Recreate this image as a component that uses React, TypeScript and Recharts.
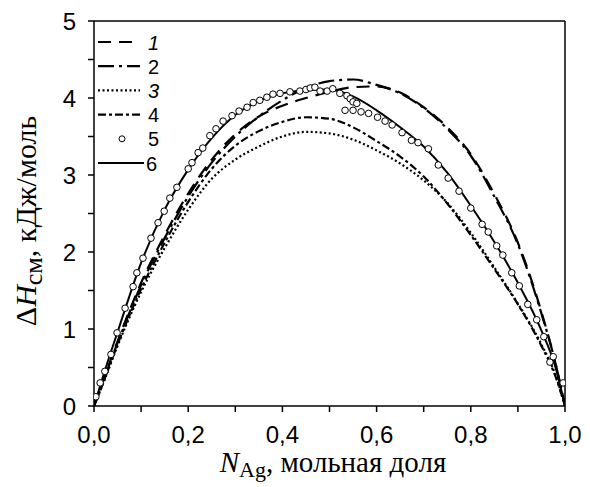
import React from 'react';
import { ComposedChart, Line, Scatter, XAxis, YAxis, ReferenceLine, Legend } from 'recharts';

const W = 590;
const H = 487;

// common composition grid for calculated curves 1-4 and 6
const gridX = [0, 0.02, 0.05, 0.1, 0.15, 0.2, 0.25, 0.3, 0.35, 0.4, 0.45, 0.5, 0.55, 0.6, 0.65, 0.7, 0.75, 0.8, 0.85, 0.9, 0.95, 0.98, 1];
const curve1 = [0, 0.34, 0.84, 1.6, 2.22, 2.76, 3.2, 3.53, 3.76, 3.9, 4.0, 4.08, 4.14, 4.15, 4.07, 3.88, 3.62, 3.27, 2.75, 2.12, 1.22, 0.55, 0];
const curve2 = [0, 0.33, 0.82, 1.57, 2.18, 2.72, 3.16, 3.5, 3.76, 3.97, 4.13, 4.22, 4.24, 4.17, 4.06, 3.87, 3.6, 3.25, 2.72, 2.1, 1.2, 0.55, 0];
const curve3 = [0, 0.3, 0.78, 1.48, 2.05, 2.55, 2.95, 3.2, 3.37, 3.5, 3.56, 3.54, 3.46, 3.32, 3.15, 2.93, 2.64, 2.25, 1.8, 1.33, 0.8, 0.4, 0];
const curve4 = [0, 0.31, 0.8, 1.52, 2.12, 2.65, 3.08, 3.38, 3.57, 3.69, 3.75, 3.73, 3.62, 3.44, 3.24, 2.98, 2.63, 2.22, 1.78, 1.32, 0.78, 0.38, 0];
const curve6 = [0, 0.4, 0.96, 1.86, 2.55, 3.07, 3.48, 3.78, 3.96, 4.06, 4.1, 4.11, 4.02, 3.84, 3.62, 3.37, 3.03, 2.6, 2.13, 1.6, 0.98, 0.5, 0];

// experimental points (series 5)
const pointsX = [0.004, 0.013, 0.023, 0.036, 0.049, 0.066, 0.083, 0.091, 0.104, 0.121, 0.136, 0.149, 0.161, 0.176, 0.2, 0.208, 0.221, 0.231, 0.246, 0.259, 0.274, 0.293, 0.308, 0.325, 0.338, 0.352, 0.367, 0.38, 0.395, 0.416, 0.437, 0.45, 0.459, 0.469, 0.48, 0.495, 0.507, 0.522, 0.537, 0.544, 0.55, 0.558, 0.533, 0.55, 0.567, 0.583, 0.602, 0.618, 0.633, 0.654, 0.674, 0.688, 0.71, 0.731, 0.752, 0.775, 0.8, 0.824, 0.837, 0.855, 0.868, 0.887, 0.903, 0.921, 0.94, 0.955, 0.968, 0.975, 0.996];
const pointsY = [0.12, 0.3, 0.45, 0.67, 0.95, 1.27, 1.55, 1.73, 1.92, 2.18, 2.38, 2.53, 2.7, 2.84, 3.08, 3.16, 3.29, 3.35, 3.51, 3.6, 3.7, 3.77, 3.83, 3.88, 3.94, 3.97, 4.01, 4.05, 4.06, 4.08, 4.09, 4.11, 4.13, 4.14, 4.09, 4.09, 4.12, 4.06, 4.03, 3.99, 3.95, 3.93, 3.84, 3.84, 3.82, 3.8, 3.75, 3.7, 3.65, 3.55, 3.45, 3.42, 3.34, 3.13, 2.96, 2.79, 2.57, 2.36, 2.26, 2.08, 1.96, 1.73, 1.56, 1.32, 1.12, 0.9, 0.57, 0.64, 0.3];

const xTickValues = [0, 0.1, 0.2, 0.3, 0.4, 0.5, 0.6, 0.7, 0.8, 0.9, 1.0];
const xMajor = [0, 0.2, 0.4, 0.6, 0.8, 1.0];
const yTickValues = [0, 0.5, 1, 1.5, 2, 2.5, 3, 3.5, 4, 4.5, 5];
const yMajor = [0, 1, 2, 3, 4, 5];
const legendLabels = ['1', '2', '3', '4', '5', '6'];

const toPoints = (xs: number[], ys: number[]) => xs.map((x, i) => ({ x, y: ys[i] }));

const lineSeries = [
  { name: legendLabels[0], data: toPoints(gridX, curve1), dash: '13 8', italic: true },
  { name: legendLabels[1], data: toPoints(gridX, curve2), dash: '16 5 3 5', italic: false },
  { name: legendLabels[2], data: toPoints(gridX, curve3), dash: '2 2.5', italic: true },
  { name: legendLabels[3], data: toPoints(gridX, curve4), dash: '8 3 3 3', italic: false },
];
const pointData = toPoints(pointsX, pointsY);
const solidData = toPoints(gridX, curve6);

const SANS = '"Liberation Sans", Arial, sans-serif';
const SERIF = '"Liberation Serif", "Times New Roman", serif';

const isIn = (v: number, arr: number[]) => arr.some((a) => Math.abs(a - v) < 1e-6);
const fmt = (v: number) => v.toFixed(1).replace('.', ',');

const XTick = (props: any) => {
  const { x, y, payload } = props;
  if (!isIn(payload.value, xMajor)) return <g />;
  return (
    <text x={x} y={y + 29} textAnchor="middle" fontSize={24} fontFamily={SANS} fill="#000">
      {fmt(payload.value)}
    </text>
  );
};

const YTick = (props: any) => {
  const { x, y, payload } = props;
  if (!isIn(payload.value, yMajor)) return <g />;
  return (
    <text x={x - 10} y={y + 8.5} textAnchor="end" fontSize={24} fontFamily={SANS} fill="#000">
      {String(payload.value)}
    </text>
  );
};

const XTitle = () => (
  <text x={333} y={472} textAnchor="middle" fontSize={29} fontFamily={SERIF} fill="#000">
    <tspan fontStyle="italic">N</tspan>
    <tspan dy={5} fontSize={22}>Ag</tspan>
    <tspan dy={-5}>, мольная доля</tspan>
  </text>
);

const YTitle = () => (
  <text x={36} y={221} transform="rotate(-90, 36, 221)" textAnchor="middle" fontSize={30} fontFamily={SERIF} fill="#000">
    <tspan>Δ</tspan>
    <tspan fontStyle="italic">H</tspan>
    <tspan dy={6} fontSize={26}>см</tspan>
    <tspan dy={-6}>, кДж/моль</tspan>
  </text>
);

const renderLegend = () => (
  <svg width={90} height={150} style={{ display: 'block' }}>
    {legendLabels.map((lab, i) => {
      const cy = 12 + i * 24.2;
      const ls = lineSeries[i];
      return (
        <g key={lab}>
          {i < 4 && (
            <line x1={6} x2={48} y1={cy} y2={cy} stroke="#000" strokeWidth={2.2} strokeDasharray={ls.dash} />
          )}
          {i === 4 && <circle cx={30} cy={cy} r={3} fill="#fff" stroke="#000" strokeWidth={1} />}
          {i === 5 && <line x1={6} x2={52} y1={cy} y2={cy} stroke="#000" strokeWidth={2.2} />}
          <text
            x={i === 5 ? 54 : 56}
            y={cy + 7.5}
            fontSize={20}
            fontFamily={SANS}
            fontStyle={ls && ls.italic ? 'italic' : 'normal'}
            fill="#000"
          >
            {lab}
          </text>
        </g>
      );
    })}
  </svg>
);

const circleShape = (p: any) => (
  <circle cx={p.cx} cy={p.cy} r={3.3} fill="#fff" stroke="#000" strokeWidth={1} />
);

export default function App() {
  return (
    <div style={{ position: 'absolute', left: 0, top: 0, width: W, height: H, background: '#fff' }}>
      <ComposedChart width={W} height={H} margin={{ top: 21, right: 25, bottom: 0, left: 0 }}>
        <XAxis
          dataKey="x"
          type="number"
          domain={[0, 1]}
          ticks={xTickValues}
          interval={0}
          height={81}
          tick={<XTick />}
          tickSize={6}
          tickMargin={2}
          axisLine={{ stroke: '#000', strokeWidth: 1.5 }}
          tickLine={{ stroke: '#000', strokeWidth: 1.5 }}
          label={<XTitle />}
          allowDataOverflow
        />
        <YAxis
          type="number"
          domain={[0, 5]}
          ticks={yTickValues}
          interval={0}
          width={94}
          tick={<YTick />}
          tickSize={6}
          tickMargin={2}
          axisLine={{ stroke: '#000', strokeWidth: 1.5 }}
          tickLine={{ stroke: '#000', strokeWidth: 1.5 }}
          label={<YTitle />}
          allowDataOverflow
        />
        <ReferenceLine y={5} stroke="#000" strokeWidth={1.5} />
        <ReferenceLine x={1} stroke="#000" strokeWidth={1.5} />
        {lineSeries.map((s) => (
          <Line
            key={s.name}
            data={s.data}
            dataKey="y"
            type="monotone"
            stroke="#000"
            strokeWidth={2.2}
            strokeDasharray={s.dash}
            dot={false}
            activeDot={false}
            isAnimationActive={false}
          />
        ))}
        <Line
          data={solidData}
          dataKey="y"
          type="monotone"
          stroke="#000"
          strokeWidth={2}
          dot={false}
          activeDot={false}
          isAnimationActive={false}
        />
        <Scatter data={pointData} dataKey="y" shape={circleShape} isAnimationActive={false} />
        <Legend
          content={renderLegend}
          layout="vertical"
          align="center"
          verticalAlign="middle"
          wrapperStyle={{ left: 92, top: 30, width: 90, height: 150 }}
        />
      </ComposedChart>
    </div>
  );
}
